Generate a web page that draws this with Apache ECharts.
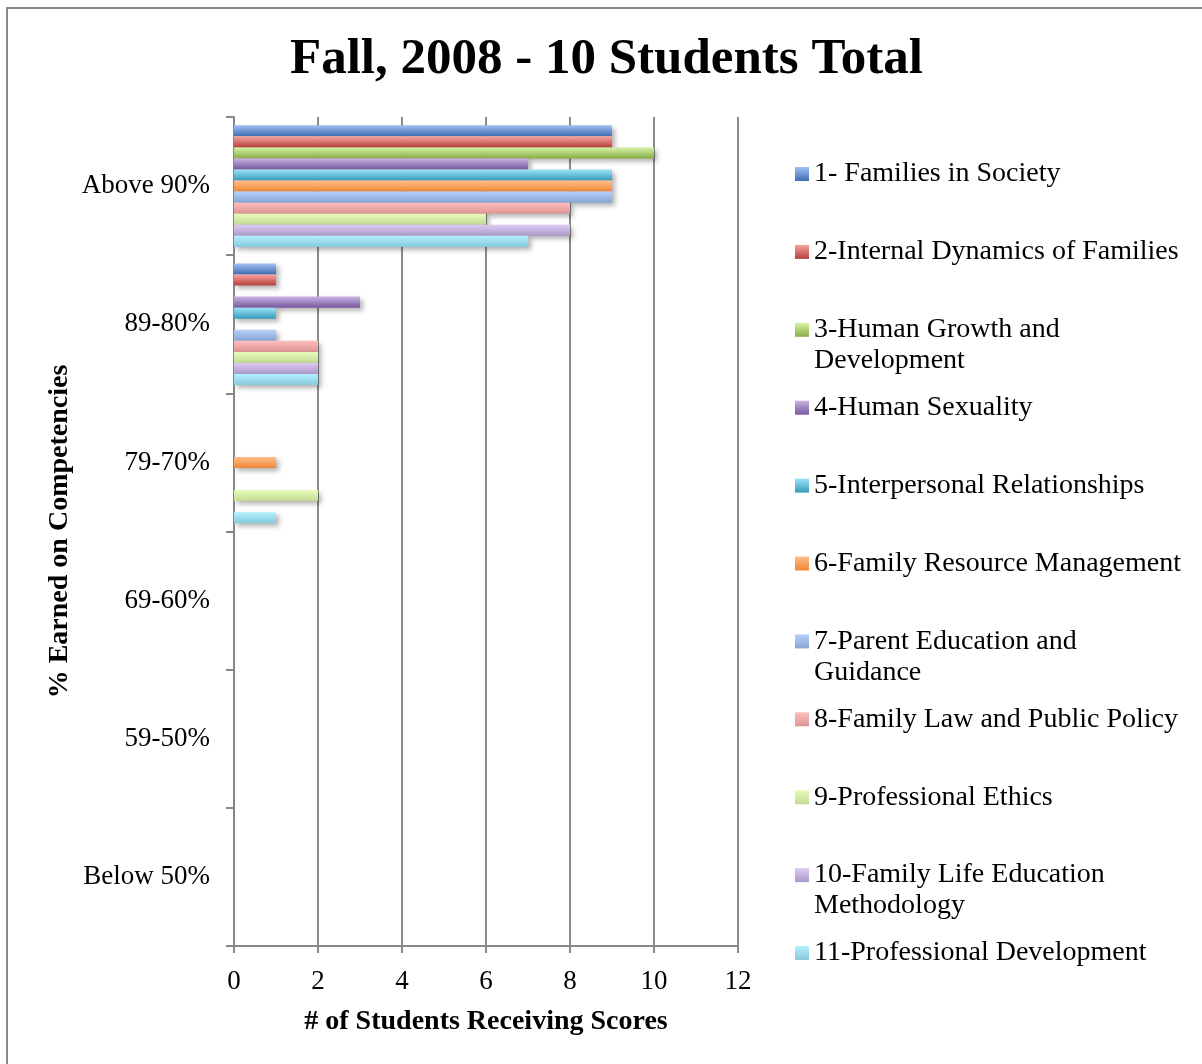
<!DOCTYPE html>
<html>
<head>
<meta charset="utf-8">
<script src="https://cdn.jsdelivr.net/npm/echarts@6/dist/echarts.min.js"></script>
<style>
  html, body { margin: 0; padding: 0; background: #fff; }
  #chart { width: 1202px; height: 1064px; }
</style>
</head>
<body>
<div id="chart"></div>
<script>
const categories = ['Above 90%', '89-80%', '79-70%', '69-60%', '59-50%', 'Below 50%']
const seriesNames = [
  '1- Families in Society',
  '2-Internal Dynamics of Families',
  '3-Human Growth and Development',
  '4-Human Sexuality',
  '5-Interpersonal Relationships',
  '6-Family Resource Management',
  '7-Parent Education and Guidance',
  '8-Family Law and Public Policy',
  '9-Professional Ethics',
  '10-Family Life Education Methodology',
  '11-Professional Development'
]
// one row per competency, one value per category
const seriesValues = [
  [9, 1, 0, 0, 0, 0],
  [9, 1, 0, 0, 0, 0],
  [10, 0, 0, 0, 0, 0],
  [7, 3, 0, 0, 0, 0],
  [9, 1, 0, 0, 0, 0],
  [9, 0, 1, 0, 0, 0],
  [9, 1, 0, 0, 0, 0],
  [8, 2, 0, 0, 0, 0],
  [6, 2, 2, 0, 0, 0],
  [8, 2, 0, 0, 0, 0],
  [7, 2, 1, 0, 0, 0]
]
const xTicks = { min: 0, max: 12, interval: 2 }

// light (top) / dark (bottom) of each bar gradient
const colors = [
  ['#a3c0f2', '#3f6cb4'],
  ['#f7a5a3', '#b73e3b'],
  ['#d8f3a6', '#88ad46'],
  ['#c7b3e3', '#77579d'],
  ['#9de3f9', '#369cba'],
  ['#ffbe8c', '#f18632'],
  ['#b7d0fa', '#87a5d6'],
  ['#ffbdbe', '#de9594'],
  ['#e8fcbc', '#c3d994'],
  ['#ddcbf2', '#ab98ca'],
  ['#b3f0fd', '#88c9de']
]
// legend entries that wrap; the leading blank line keeps the icon on the first line
const legendBreaks = {
  '3-Human Growth and Development': '\n3-Human Growth and\nDevelopment',
  '7-Parent Education and Guidance': '\n7-Parent Education and\nGuidance',
  '10-Family Life Education Methodology': '\n10-Family Life Education\nMethodology'
}

const font = 'Liberation Serif'
const lh = 31

const series = seriesNames.map((name, i) => ({
  name: name,
  type: 'bar',
  data: seriesValues[i],
  barGap: '0%',
  barCategoryGap: '12%',
  itemStyle: {
    color: new echarts.graphic.LinearGradient(0, 0, 0, 1, [
      { offset: 0, color: colors[i][0] },
      { offset: 1, color: colors[i][1] }
    ]),
    shadowColor: 'rgba(0,0,0,0.3)',
    shadowBlur: 5,
    shadowOffsetX: 3,
    shadowOffsetY: 3
  }
}))

const legends = seriesNames.map((name, i) => {
  const center = 174 + 77.9 * i
  const twoLines = !!legendBreaks[name]
  return {
    data: [name],
    orient: 'vertical',
    left: 795,
    top: twoLines ? center - 7 - 39.5 : center - 7 - 8.5,
    padding: 0,
    icon: 'rect',
    itemWidth: 14,
    itemHeight: 14,
    itemGap: 0,
    selectedMode: false,
    itemStyle: { shadowBlur: 0, shadowOffsetX: 0, shadowOffsetY: 0 },
    formatter: n => legendBreaks[n] || n,
    textStyle: {
      fontFamily: font,
      fontSize: 28,
      color: '#000',
      lineHeight: lh
    }
  }
})

const chart = echarts.init(document.getElementById('chart'))
chart.setOption({
  animation: false,
  backgroundColor: '#fff',
  title: {
    text: 'Fall, 2008 - 10 Students Total',
    left: 290,
    top: 34,
    padding: 0,
    textStyle: { fontFamily: font, fontSize: 51, fontWeight: 'bold', color: '#000' }
  },
  graphic: [{
    type: 'rect',
    shape: { x: 7, y: 8, width: 1210, height: 1070 },
    style: { fill: 'none', stroke: '#888', lineWidth: 2 },
    silent: true
  }],
  legend: legends,
  grid: { left: 234, top: 117, width: 504, height: 829 },
  xAxis: {
    type: 'value',
    min: xTicks.min,
    max: xTicks.max,
    interval: xTicks.interval,
    name: '# of Students Receiving Scores',
    nameLocation: 'middle',
    nameGap: 62,
    nameTextStyle: { fontFamily: font, fontSize: 28, fontWeight: 'bold', color: '#000' },
    axisLine: { show: true, lineStyle: { color: '#888', width: 2 } },
    axisTick: { show: true, length: 7, lineStyle: { color: '#888', width: 2 } },
    axisLabel: { fontFamily: font, fontSize: 27, color: '#000', margin: 22 },
    splitLine: { show: true, lineStyle: { color: '#8c8c8c', width: 2 } }
  },
  yAxis: {
    type: 'category',
    inverse: true,
    data: categories,
    name: '% Earned on Competencies',
    nameLocation: 'middle',
    nameRotate: 90,
    nameGap: 160,
    nameTextStyle: { fontFamily: font, fontSize: 28, fontWeight: 'bold', color: '#000' },
    axisLine: { show: true, lineStyle: { color: '#888', width: 2 } },
    axisTick: { show: true, length: 8, interval: 0, lineStyle: { color: '#888', width: 2 } },
    axisLabel: { fontFamily: font, fontSize: 27, color: '#000', margin: 24, interval: 0, padding: [6, 0, 0, 0] },
    splitLine: { show: false }
  },
  series: series
})
</script>
</body>
</html>
